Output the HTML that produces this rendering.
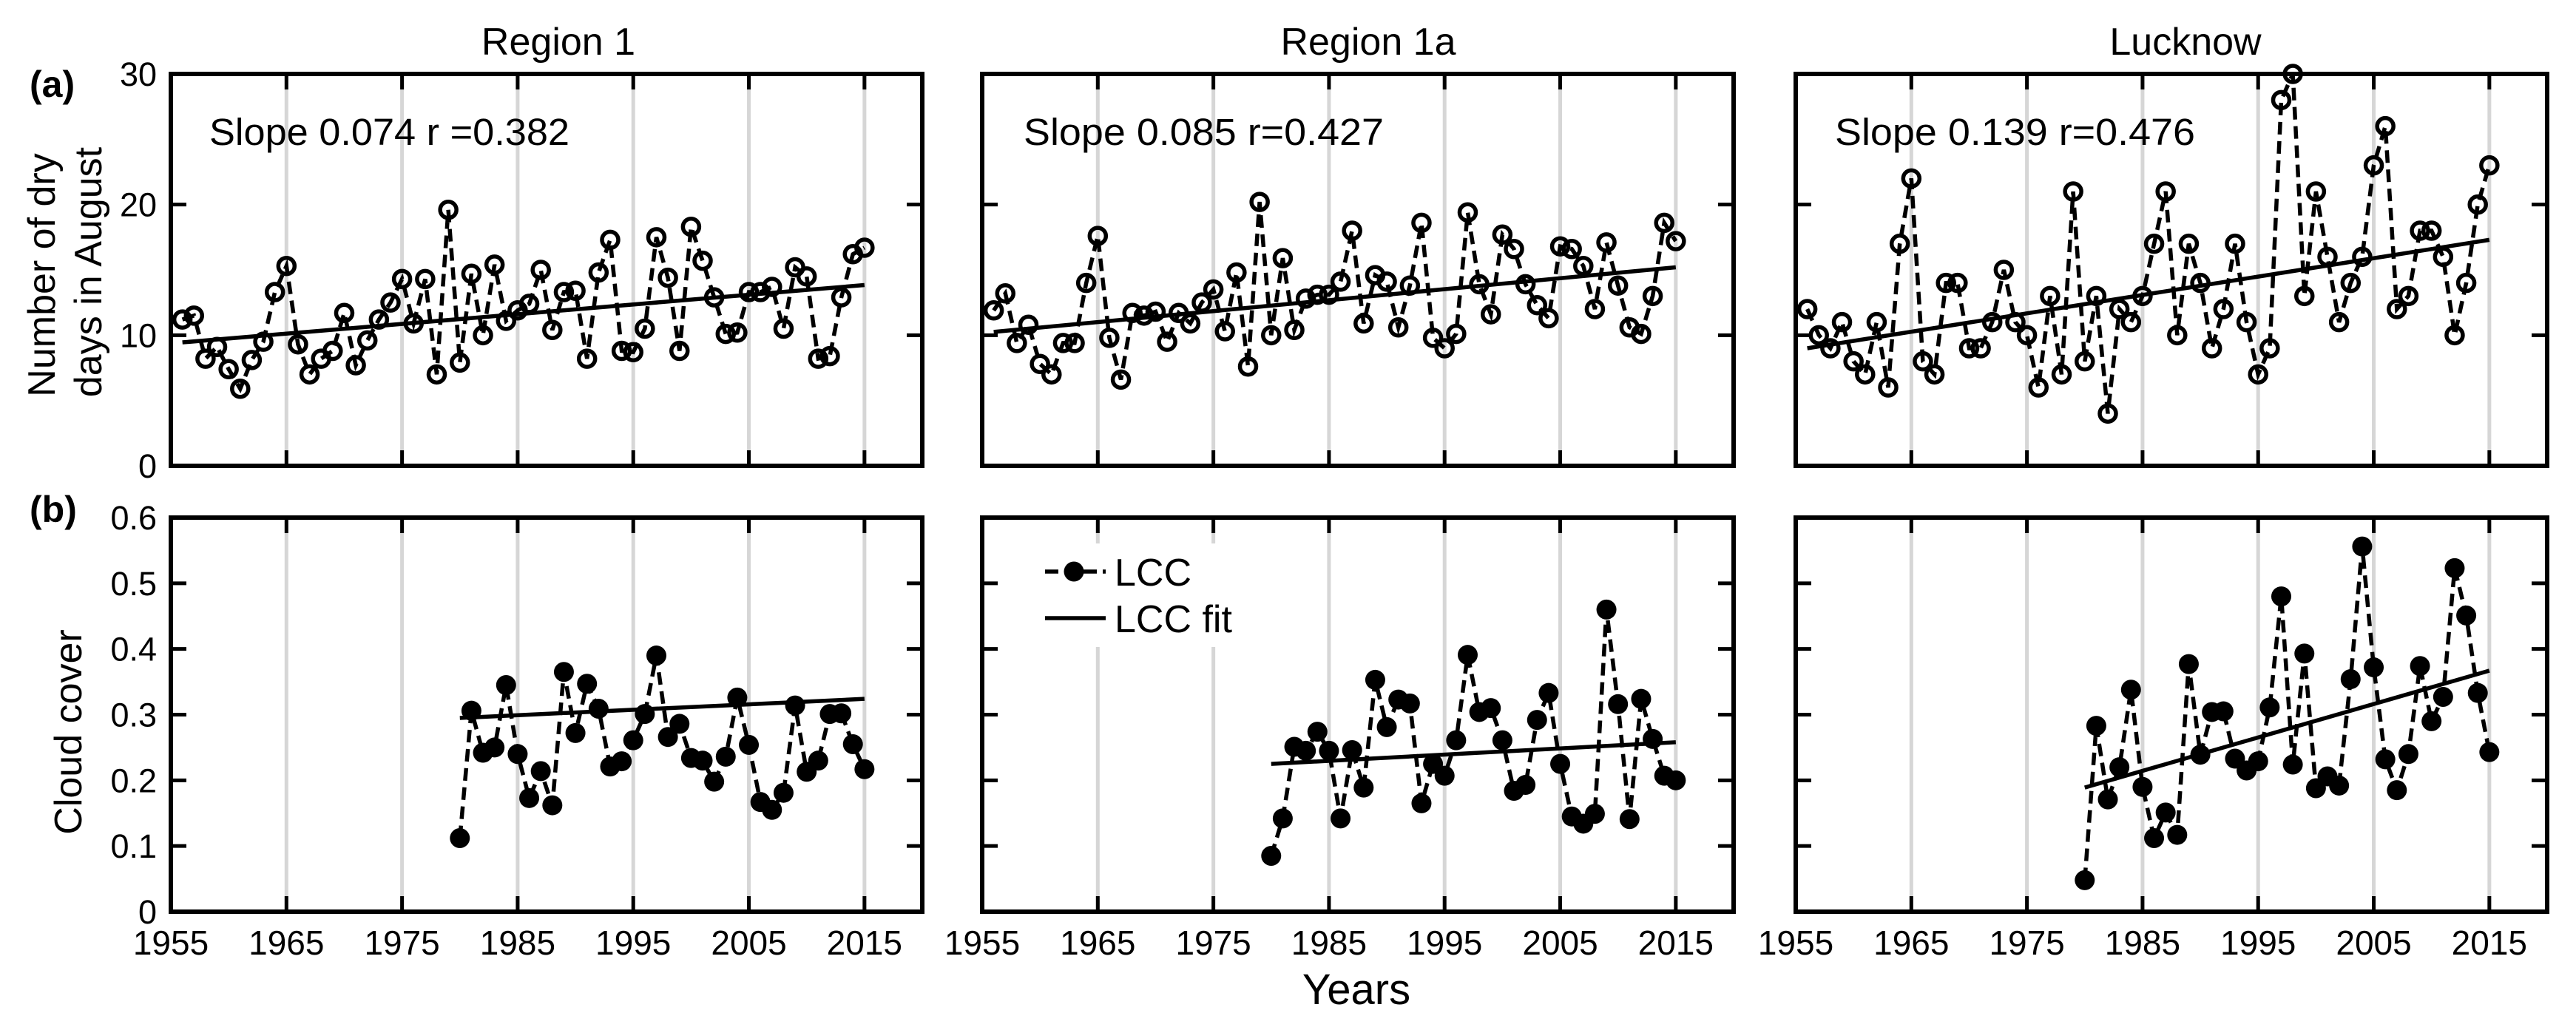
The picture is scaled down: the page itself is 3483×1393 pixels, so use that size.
<!DOCTYPE html>
<html><head><meta charset="utf-8"><style>
html,body{margin:0;padding:0;background:#fff;}
svg{display:block;font-family:"Liberation Sans",Arial,sans-serif;}
</style></head><body>
<svg id="chart" width="3483" height="1393" viewBox="0 0 3483 1393" xmlns="http://www.w3.org/2000/svg">
<rect x="0" y="0" width="3483" height="1393" fill="#fff"/>
<g id="layer"></g>
</svg>
<script>
// ---- data ----
const dryYears = [];
for (let y = 1956; y <= 2015; y++) dryYears.push(y);
const lccYears = [];
for (let y = 1980; y <= 2015; y++) lccYears.push(y);

const dryRegion1 = [11.2,11.5,8.2,9.1,7.4,5.9,8.1,9.5,13.3,15.3,9.3,7.0,8.2,8.8,11.7,7.7,9.6,11.2,12.5,14.3,10.9,14.3,7.0,19.6,7.9,14.7,10.0,15.4,11.1,11.9,12.4,15.0,10.4,13.3,13.4,8.2,14.8,17.3,8.8,8.7,10.5,17.5,14.4,8.8,18.3,15.7,12.9,10.1,10.2,13.3,13.3,13.7,10.5,15.2,14.5,8.2,8.4,12.9,16.2,16.7];
const dryRegion1a = [11.9,13.2,9.4,10.8,7.8,7.0,9.4,9.4,14.0,17.6,9.8,6.6,11.7,11.5,11.8,9.5,11.7,10.9,12.5,13.5,10.3,14.8,7.6,20.2,10.0,15.9,10.4,12.8,13.1,13.1,14.1,18.0,10.9,14.6,14.1,10.6,13.8,18.6,9.8,9.0,10.1,19.4,13.9,11.6,17.7,16.6,13.9,12.3,11.3,16.8,16.6,15.3,12.0,17.1,13.8,10.6,10.1,13.0,18.6,17.2];
const dryLucknow = [12,10,9,11,8,7,11,6,17,22,8,7,14,14,9,9,11,15,11,10,6,13,7,21,8,13,4,12,11,13,17,21,10,17,14,9,12,17,11,7,9,28,30,13,21,16,11,14,16,23,26,12,13,18,18,16,10,14,20,23];
const dryFitR1 = [9.45, 13.84];
const dryFitR1a = [10.25, 15.2];
const dryFitLk = [9.0, 17.3];

const lccRegion1 = [0.112,0.306,0.242,0.250,0.345,0.240,0.173,0.214,0.162,0.365,0.272,0.347,0.309,0.221,0.229,0.261,0.301,0.390,0.266,0.286,0.234,0.230,0.198,0.236,0.326,0.254,0.167,0.155,0.181,0.314,0.213,0.230,0.301,0.302,0.255,0.217];
const lccRegion1a = [0.085,0.142,0.251,0.245,0.274,0.245,0.142,0.246,0.189,0.353,0.281,0.323,0.317,0.165,0.225,0.207,0.261,0.391,0.304,0.310,0.261,0.184,0.193,0.292,0.333,0.225,0.145,0.134,0.149,0.460,0.316,0.141,0.324,0.263,0.207,0.200];
const lccLucknow = [0.048,0.283,0.171,0.220,0.338,0.190,0.112,0.151,0.117,0.377,0.239,0.304,0.305,0.233,0.215,0.229,0.311,0.480,0.224,0.393,0.188,0.206,0.192,0.354,0.556,0.372,0.232,0.185,0.240,0.374,0.290,0.327,0.523,0.451,0.333,0.243];
const lccFitR1 = [0.295, 0.324];
const lccFitR1a = [0.225, 0.258];
const lccFitLk = [0.189, 0.367];

const panelTitles = ["Region 1","Region 1a","Lucknow"];
const slopeLabels = ["Slope 0.074 r =0.382","Slope 0.085 r=0.427","Slope 0.139 r=0.476"];
const xTicks = [1955,1965,1975,1985,1995,2005,2015];
const dryTicks = [0,10,20,30];
const lccTicks = [0,0.1,0.2,0.3,0.4,0.5,0.6];

// ---- layout ----
const NS = "http://www.w3.org/2000/svg";
const layer = document.getElementById('layer');
const panelLeft = [231, 1328, 2428];
const panelW = 1016;
const topRow = {y0: 100, y1: 630, min: 0, max: 30};
const botRow = {y0: 700, y1: 1233, min: 0, max: 0.6};
const X_MIN = 1955, X_MAX = 2020;

function el(tag, attrs, parent) {
  const e = document.createElementNS(NS, tag);
  for (const k in attrs) e.setAttribute(k, attrs[k]);
  (parent || layer).appendChild(e);
  return e;
}
function xScale(p, yr) { return panelLeft[p] + (yr - X_MIN) / (X_MAX - X_MIN) * panelW; }
function yScale(row, v) { return row.y1 - (v - row.min) / (row.max - row.min) * (row.y1 - row.y0); }

function drawPanel(p, row, ticks, tickFmt, showYLabels, showXLabels, years, vals, fit, filled, nameBase) {
  const g = el('g', {});
  
  
  const L = panelLeft[p], R = L + panelW;
  xTicks.slice(1).forEach(t => {
    const gl = el('line', {x1: xScale(p,t), x2: xScale(p,t), y1: row.y0, y2: row.y1, stroke: '#d6d6d6', 'stroke-width': 5}, g);
    
    
  });
  xTicks.forEach(t => {
    const x = xScale(p,t);
    el('line', {x1:x, x2:x, y1:row.y0, y2:row.y0+21, stroke:'#000','stroke-width':5}, g);
    el('line', {x1:x, x2:x, y1:row.y1, y2:row.y1-21, stroke:'#000','stroke-width':5}, g);
    if (showXLabels) {
      const tx = el('text', {x:x, y:row.y1+58, 'font-size':46, 'text-anchor':'middle', fill:'#000'}, g);
      tx.textContent = t;
      
      
    }
  });
  ticks.forEach(t => {
    const y = yScale(row, t);
    el('line', {x1:L, x2:L+21, y1:y, y2:y, stroke:'#000','stroke-width':5}, g);
    el('line', {x1:R, x2:R-21, y1:y, y2:y, stroke:'#000','stroke-width':5}, g);
    if (showYLabels) {
      const tx = el('text', {x:L-19, y:y+16, 'font-size':45, 'text-anchor':'end', fill:'#000'}, g);
      tx.textContent = tickFmt(t);
      
      
    }
  });
  const fl = el('line', {x1:xScale(p, years[0]), x2:xScale(p, years[years.length-1]), y1:yScale(row, fit[0]), y2:yScale(row, fit[1]), stroke:'#000','stroke-width':5.5}, g);
  
  
  const pts = vals.map((v,i) => xScale(p, years[i]).toFixed(1) + ',' + yScale(row, v).toFixed(1)).join(' ');
  const pl = el('polyline', {points: pts, fill:'none', stroke:'#000', 'stroke-width':5.5, 'stroke-dasharray':'17 9'}, g);
  
  
  vals.forEach((v,i) => {
    const c = el('circle', filled
      ? {cx:xScale(p, years[i]), cy:yScale(row, v), r:13.5, fill:'#000'}
      : {cx:xScale(p, years[i]), cy:yScale(row, v), r:11, fill:'none', stroke:'#000', 'stroke-width':5.5}, g);
    
    
  });
  const fr = el('rect', {x:L, y:row.y0, width:panelW, height:row.y1-row.y0, fill:'none', stroke:'#000', 'stroke-width':6}, g);
  
  
  return g;
}

const dryData = [dryRegion1, dryRegion1a, dryLucknow];
const dryFits = [dryFitR1, dryFitR1a, dryFitLk];
const lccData = [lccRegion1, lccRegion1a, lccLucknow];
const lccFits = [lccFitR1, lccFitR1a, lccFitLk];
const keys = ['region1','region1a','lucknow'];
const titleX = [755, 1850, 2955];
const slopeX = [283, 1384, 2481];

for (let p = 0; p < 3; p++) {
  drawPanel(p, topRow, dryTicks, t => String(t), p === 0, false, dryYears, dryData[p], dryFits[p], false, keys[p] + '-dry-days');
  drawPanel(p, botRow, lccTicks, t => t === 0 ? '0' : t.toFixed(1), p === 0, true, lccYears, lccData[p], lccFits[p], true, keys[p] + '-lcc');
  const tt = el('text', {x:titleX[p], y:74, 'font-size':52, 'text-anchor':'middle', fill:'#000'});
  tt.textContent = panelTitles[p];
  
  
  const st = el('text', {x:slopeX[p], y:196, 'font-size':51, fill:'#000', textLength:487, lengthAdjust:'spacingAndGlyphs'});
  st.textContent = slopeLabels[p];
  
  
}

const lg = el('g', {});


el('rect', {x:1395, y:735, width:310, height:140, fill:'#fff'}, lg);
const l1 = el('line', {x1:1413, x2:1495, y1:773, y2:773, stroke:'#000','stroke-width':5.5,'stroke-dasharray':'18 8'}, lg);


el('circle', {cx:1452, cy:773, r:13.5, fill:'#000'}, lg);
const t1 = el('text', {x:1507, y:792, 'font-size':52, fill:'#000'}, lg);
t1.textContent = 'LCC';


const l2 = el('line', {x1:1413, x2:1495, y1:836, y2:836, stroke:'#000','stroke-width':5.5}, lg);


const t2 = el('text', {x:1507, y:855, 'font-size':52, fill:'#000'}, lg);
t2.textContent = 'LCC fit';



function label(txt, attrs, name) {
  const t = el('text', attrs);
  t.textContent = txt;
  
  
}
label('(a)', {x:40, y:131, 'font-size':50, 'font-weight':'bold'}, 'panel-label-a');
label('(b)', {x:40, y:706, 'font-size':50, 'font-weight':'bold'}, 'panel-label-b');
label('Number of dry', {x:0, y:0, 'font-size':52, 'text-anchor':'middle', transform:'translate(74,372) rotate(-90)'}, 'y-axis-title-line1');
label('days in August', {x:0, y:0, 'font-size':52, 'text-anchor':'middle', transform:'translate(137,368) rotate(-90)'}, 'y-axis-title-line2');
label('Cloud cover', {x:0, y:0, 'font-size':52, 'text-anchor':'middle', transform:'translate(110,990) rotate(-90)'}, 'y-axis-title-cloud');
label('Years', {x:1834, y:1358, 'font-size':58, 'text-anchor':'middle'}, 'x-axis-title');
</script>
</body></html>
